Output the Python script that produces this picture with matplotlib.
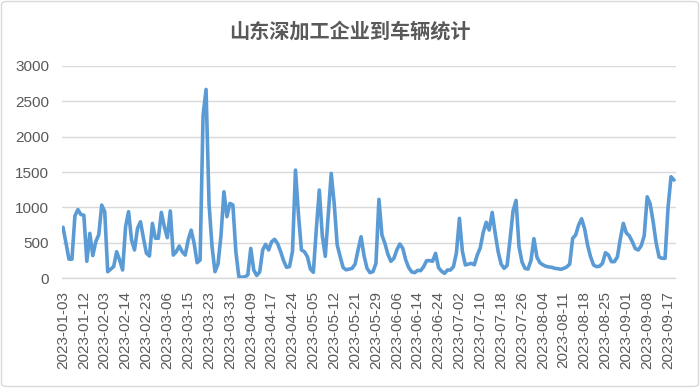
import matplotlib
matplotlib.use("Agg")
import matplotlib.pyplot as plt
from matplotlib.patches import FancyBboxPatch

title = "山东深加工企业到车辆统计"
tick_labels = ["2023-01-03", "2023-01-12", "2023-02-03", "2023-02-14", "2023-02-23",
               "2023-03-06", "2023-03-15", "2023-03-23", "2023-03-31", "2023-04-09",
               "2023-04-17", "2023-04-24", "2023-05-05", "2023-05-12", "2023-05-21",
               "2023-05-29", "2023-06-06", "2023-06-14", "2023-06-24", "2023-07-02",
               "2023-07-10", "2023-07-18", "2023-07-26", "2023-08-04", "2023-08-11",
               "2023-08-18", "2023-08-25", "2023-09-01", "2023-09-08", "2023-09-17"]
label_step = 7

values = [
    720, 500, 270, 270, 880, 970, 900, 890, 240, 634,
    320, 517, 615, 1033, 940, 93, 130, 165, 375, 258,
    117, 728, 940, 540, 400, 705, 798, 565, 352, 315,
    775, 565, 565, 930, 728, 573, 950, 328, 375, 455,
    375, 328, 540, 680, 493, 220, 258, 2300, 2665, 1050,
    450, 93, 200, 600, 1221, 869, 1057, 1034, 375, 23,
    15, 20, 47, 422, 117, 40, 90, 400, 479, 400,
    516, 550, 490, 380, 250, 155, 165, 380, 1527, 900,
    400, 375, 305, 130, 85, 700, 1245, 600, 310, 900,
    1480, 1050, 470, 305, 150, 120, 130, 140, 200, 400,
    587, 320, 141, 80, 94, 211, 1114, 611, 493, 340,
    240, 280, 400, 484, 423, 258, 150, 90, 80, 112,
    108, 164, 249, 249, 240, 352, 150, 100, 70, 117,
    117, 164, 360, 846, 380, 188, 200, 211, 190, 330,
    430, 650, 790, 681, 930, 634, 376, 200, 141, 180,
    550, 950, 1100, 446, 230, 140, 130, 250, 560, 300,
    220, 190, 170, 160, 155, 141, 135, 127, 140, 160,
    200, 564, 611, 752, 840, 700, 470, 305, 188, 164,
    170, 211, 361, 329, 235, 235, 300, 560, 775, 640,
    600, 517, 420, 399, 460, 600, 1150, 1050, 800, 500,
    300, 282, 282, 1000, 1433, 1386,
]

W, H = 700, 388
fig = plt.figure(figsize=(W / 100, H / 100), dpi=100)
fig.patch.set_facecolor("white")

border = FancyBboxPatch((1.5 / W, 1.5 / H), (W - 3) / W, (H - 3) / H,
                        boxstyle="round,pad=0,rounding_size=0.008",
                        transform=fig.transFigure, facecolor="none",
                        edgecolor="#D9D9D9", linewidth=1.0)
fig.patches.append(border)

left, right = 61.5 / W, 675.5 / W
bottom, top = (H - 278.3) / H, (H - 65.7) / H
ax = fig.add_axes([left, bottom, right - left, top - bottom])

x = list(range(len(values)))
ax.plot(x, values, color="#5B9BD5", linewidth=2.6, solid_joinstyle="round",
        solid_capstyle="round", zorder=3)

ax.set_xlim(-0.5, len(values) - 0.5)
ax.set_ylim(0, 3000)
ax.set_yticks(range(0, 3001, 500))
ax.set_yticklabels([str(v) for v in range(0, 3001, 500)],
                   fontfamily="Liberation Sans", fontsize=11, color="#595959")
ax.set_xticks([k * label_step for k in range(len(tick_labels))])
ax.set_xticklabels(tick_labels, rotation=90, fontfamily="Liberation Sans",
                   fontsize=11, color="#595959")
ax.tick_params(axis="both", length=0)
ax.tick_params(axis="y", pad=9)
ax.tick_params(axis="x", pad=9)

ax.grid(axis="y", color="#D9D9D9", linewidth=1.0)
ax.grid(axis="x", visible=False)
ax.set_axisbelow(True)
for s in ["top", "right", "left"]:
    ax.spines[s].set_visible(False)
ax.spines["bottom"].set_color("#D9D9D9")
ax.spines["bottom"].set_linewidth(1.0)

fig.text(0.5, 1 - 31 / H, title, ha="center", va="center",
         fontfamily=["Noto Sans CJK SC", "DejaVu Sans"], fontsize=14.5,
         fontweight="bold", color="#595959")

fig.savefig("out.png", dpi=100, facecolor="white")
